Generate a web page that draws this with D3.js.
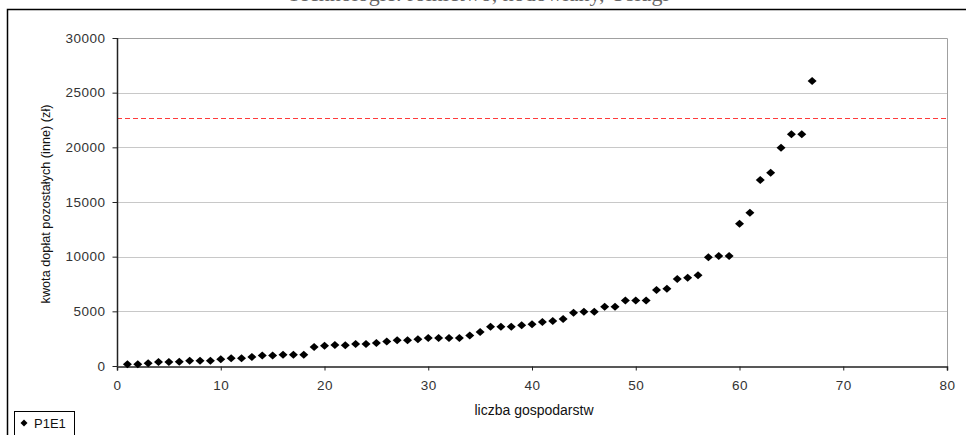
<!DOCTYPE html>
<html>
<head>
<meta charset="utf-8">
<script src="https://cdn.jsdelivr.net/npm/d3@7"></script>
<style>
  html, body { margin: 0; padding: 0; background: #fff; }
  svg { display: block; }
</style>
</head>
<body>
<svg id="chart" width="966" height="435"></svg>
<script>
// ---- data ----
const farmIndex = d3.range(1, 68);
const paymentValues = [
  150, 160, 250, 370, 370, 380, 490, 490, 490, 610,
  700, 720, 830, 950, 950, 1040, 1040, 1040, 1740, 1860,
  1920, 1900, 2010, 2010, 2100, 2230, 2350, 2350, 2440, 2560,
  2560, 2560, 2560, 2780, 3110, 3600, 3600, 3600, 3720, 3810,
  4020, 4120, 4300, 4880, 4970, 4970, 5430, 5430, 5980, 5980,
  5980, 6950, 7070, 7960, 8080, 8290, 9940, 10060, 10060, 13020,
  14020, 17010, 17680, 19970, 21190, 21190, 26070
];
const thresholdValue = 22700;
const xTicks = [0, 10, 20, 30, 40, 50, 60, 70, 80];
const yTicks = [0, 5000, 10000, 15000, 20000, 25000, 30000];
const seriesName = "P1E1";
const titleText = "Technologie: rolnictwo, hodowlany, Usługi";
const xTitle = "liczba gospodarstw";
const yTitle = "kwota dopłat pozostałych (inne) (zł)";

// ---- layout ----
const svg = d3.select("#chart");
const pL = 117, pR = 947, pT = 38, pB = 366;
const x = d3.scaleLinear().domain([0, 80]).range([pL, pR]);
const y = d3.scaleLinear().domain([0, 30000]).range([pB, pT]);
const font = "'Liberation Sans', Arial, sans-serif";

// title (mostly clipped above the viewport, as in the source)
svg.append("text")
  .attr("x", 478).attr("y", 1)
  .attr("text-anchor", "middle")
  .attr("font-family", "'Liberation Serif', 'Times New Roman', serif")
  .attr("font-size", 22)
  .attr("fill", "#666")
  .text(titleText);

// outer frame
svg.append("path")
  .attr("d", "M7.5,440 L7.5,9.5 L970,9.5")
  .attr("fill", "none").attr("stroke", "#000").attr("stroke-width", 1.5);

// gridlines
svg.append("g").selectAll("line")
  .data(yTicks.filter(d => d > 0))
  .join("line")
  .attr("x1", pL).attr("x2", pR)
  .attr("y1", d => Math.round(y(d)) + 0.5).attr("y2", d => Math.round(y(d)) + 0.5)
  .attr("stroke", "#c8c8c8").attr("stroke-width", 1);

// plot border (top and right)
svg.append("path")
  .attr("d", `M${pL},${pT + 0.5} L${pR + 0.5},${pT + 0.5} L${pR + 0.5},${pB}`)
  .attr("fill", "none").attr("stroke", "#a0a0a0").attr("stroke-width", 1);

// threshold line
svg.append("line")
  .attr("x1", pL).attr("x2", pR)
  .attr("y1", Math.round(y(thresholdValue)) + 0.5).attr("y2", Math.round(y(thresholdValue)) + 0.5)
  .attr("stroke", "#ff3b3b").attr("stroke-width", 1)
  .attr("stroke-dasharray", "5,3");

// axes
const yAxis = d3.axisLeft(y).tickValues(yTicks).tickSize(5).tickPadding(7).tickFormat(d3.format("d"));
const xAxis = d3.axisBottom(x).tickValues(xTicks).tickSize(4).tickPadding(10).tickFormat(d3.format("d"));

const gy = svg.append("g").attr("transform", `translate(${pL + 0.5},0)`).call(yAxis);
const gx = svg.append("g").attr("transform", `translate(0,${pB + 0.5})`).call(xAxis);
[gx, gy].forEach(g => {
  g.select(".domain").attr("stroke", "#222").attr("stroke-width", 1.5);
  g.selectAll(".tick line").attr("stroke", "#222");
  g.selectAll(".tick text").attr("font-family", font).attr("font-size", 13.5)
    .attr("letter-spacing", 0.5).attr("fill", "#333");
});
gy.select(".domain").attr("d", `M0,${pT}V${pB}`);

// axis titles
svg.append("text")
  .attr("x", 534).attr("y", 415)
  .attr("text-anchor", "middle")
  .attr("font-family", font).attr("font-size", 14).attr("fill", "#111")
  .text(xTitle);
svg.append("text")
  .attr("transform", `translate(50,${(pT + pB) / 2 + 2}) rotate(-90)`)
  .attr("text-anchor", "middle")
  .attr("font-family", font).attr("font-size", 12.7).attr("fill", "#111")
  .text(yTitle);

// markers
const diamond = (hw, hh) => `M0,${-hh}L${hw},0L0,${hh}L${-hw},0Z`;
svg.append("g").selectAll("path")
  .data(farmIndex.map((d, i) => [d, paymentValues[i]]))
  .join("path")
  .attr("transform", d => `translate(${x(d[0])},${y(d[1])})`)
  .attr("d", diamond(4.5, 4))
  .attr("fill", "#000");

// legend
const lg = svg.append("g");
lg.append("rect")
  .attr("x", 14.5).attr("y", 411.5).attr("width", 60).attr("height", 26)
  .attr("fill", "#fff").attr("stroke", "#000").attr("stroke-width", 1);
lg.append("path")
  .attr("transform", "translate(24,423)")
  .attr("d", diamond(3.5, 3.5)).attr("fill", "#000");
lg.append("text")
  .attr("x", 34).attr("y", 428)
  .attr("font-family", font).attr("font-size", 13).attr("fill", "#111")
  .text(seriesName);
</script>
</body>
</html>
